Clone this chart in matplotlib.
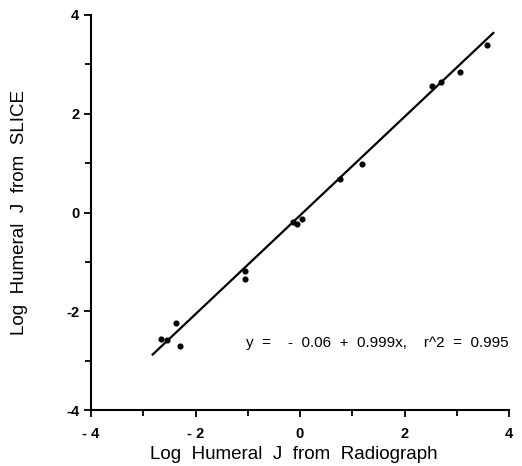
import numpy as np
import matplotlib.pyplot as plt

plt.rcParams['font.family'] = ['Liberation Sans', 'DejaVu Sans']

# data (log humeral J)
radiograph = [-2.66, -2.55, -2.38, -2.30, -1.05, -1.05, -0.13, -0.06, 0.04,
              0.77, 1.19, 2.53, 2.70, 3.07, 3.58]
slice_j = [-2.56, -2.58, -2.24, -2.70, -1.18, -1.34, -0.20, -0.24, -0.14,
           0.67, 0.98, 2.56, 2.64, 2.85, 3.39]

# regression line
intercept = -0.06
slope = 0.999
fit_x = [-2.82, 3.70]

xticks = [-4, -2, 0, 2, 4]
xticklabels = ['- 4', '- 2', '0', '2', '4']
yticks = [-4, -2, 0, 2, 4]
yticklabels = ['-4', '-2', '0', '2', '4']

fig = plt.figure(figsize=(5.22, 4.66), dpi=100)
ax = fig.add_axes([91 / 522, 56 / 466, 418 / 522, 395 / 466])

ax.plot(radiograph, slice_j, 'o', color='black', markersize=3.4)
fx = np.array(fit_x)
ax.plot(fx, intercept + slope * fx, color='black', linewidth=1.6)

ax.set_xlim(-4, 4)
ax.set_ylim(-4, 4)
ax.set_xticks(xticks)
ax.set_xticklabels(xticklabels, fontweight='bold')
ax.set_yticks(yticks)
ax.set_yticklabels(yticklabels, fontweight='bold')
ax.set_xticks([-3, -1, 1, 3], minor=True)
ax.set_yticks([-3, -1, 1, 3], minor=True)
ax.tick_params(which='major', direction='out', length=5, width=1.3, labelsize=10.5)
ax.tick_params(axis='x', which='major', pad=7)
ax.tick_params(which='minor', direction='out', length=4, width=1.3)

for side in ['top', 'right']:
    ax.spines[side].set_visible(False)
for side in ['left', 'bottom']:
    ax.spines[side].set_linewidth(1.5)

ax.set_xlabel('Log  Humeral  J  from  Radiograph', fontsize=13.5)
ax.set_ylabel('Log  Humeral  J  from  SLICE', fontsize=13.5)
ax.xaxis.set_label_coords(0.486, -0.092)
ax.yaxis.set_label_coords(-0.15, 0.5)

ax.text(-1.03, -2.72, 'y  =    -  0.06  +  0.999x,    r^2  =  0.995', fontsize=11,
        va='baseline', ha='left')

fig.savefig('out.png', dpi=100)
